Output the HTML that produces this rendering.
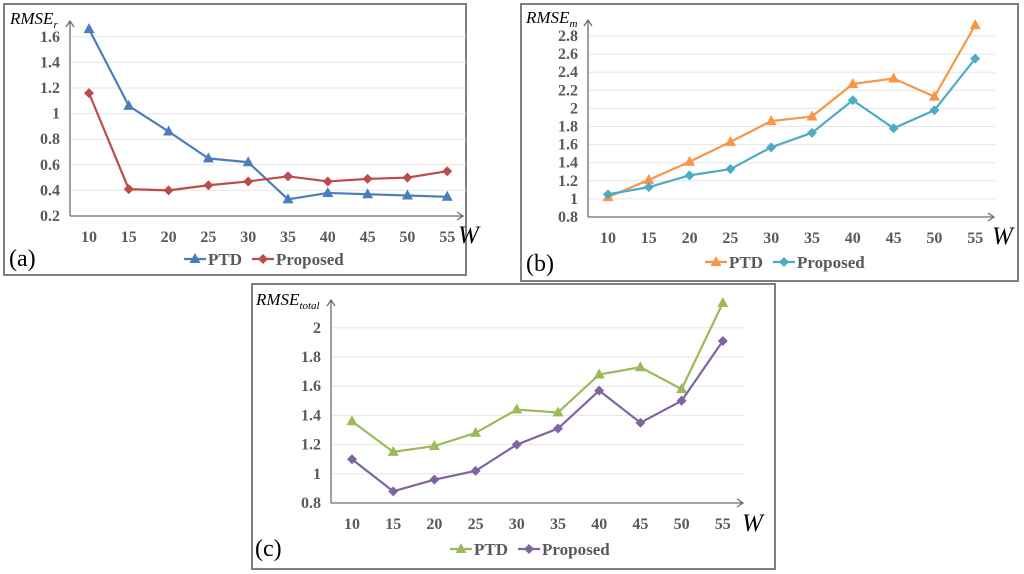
<!DOCTYPE html>
<html><head><meta charset="utf-8"><style>
html,body{margin:0;padding:0;background:#fff;}
svg{display:block;}
.tk{font-family:"Liberation Serif",serif;font-weight:bold;font-size:16px;fill:#595959;}
.lg{font-family:"Liberation Serif",serif;font-weight:bold;font-size:17px;fill:#595959;}
.pl{font-family:"Liberation Serif",serif;font-size:24px;fill:#000;}
.yt{font-family:"Liberation Serif",serif;font-style:italic;font-size:17px;fill:#000;}
.wl{font-family:"Liberation Serif",serif;font-style:italic;font-size:25px;fill:#000;}
</style></head><body>
<svg id="root" width="1024" height="574" viewBox="0 0 1024 574"></svg>
<script>
const categories = [10,15,20,25,30,35,40,45,50,55];
const aPTD = [1.66,1.06,0.86,0.65,0.62,0.33,0.38,0.37,0.36,0.35];
const aProposed = [1.16,0.41,0.40,0.44,0.47,0.51,0.47,0.49,0.50,0.55];
const aTicks = ["0.2","0.4","0.6","0.8","1","1.2","1.4","1.6"];
const bPTD = [1.02,1.21,1.41,1.63,1.86,1.91,2.27,2.33,2.13,2.92];
const bProposed = [1.05,1.13,1.26,1.33,1.57,1.73,2.09,1.78,1.98,2.55];
const bTicks = ["0.8","1","1.2","1.4","1.6","1.8","2","2.2","2.4","2.6","2.8"];
const cPTD = [1.36,1.15,1.19,1.28,1.44,1.42,1.68,1.73,1.58,2.17];
const cProposed = [1.10,0.88,0.96,1.02,1.20,1.31,1.57,1.35,1.50,1.91];
const cTicks = ["0.8","1","1.2","1.4","1.6","1.8","2"];

const NS="http://www.w3.org/2000/svg";
const root=document.getElementById('root');
function mk(tag,attrs,parent,text){const e=document.createElementNS(NS,tag);for(const k in attrs)e.setAttribute(k,attrs[k]);if(text!==undefined)e.textContent=text;(parent||root).appendChild(e);return e;}
function marker(g,type,x,y,color){
  if(type==='tri') return mk('polygon',{points:`${x},${y-6} ${x-5.5},${y+4} ${x+5.5},${y+4}`,fill:color},g);
  return mk('polygon',{points:`${x},${y-5} ${x+5},${y} ${x},${y+5} ${x-5},${y}`,fill:color},g);
}
function panel(p){
  const g=mk('g',{});
  
  
  const b=mk('rect',{x:p.box[0],y:p.box[1],width:p.box[2],height:p.box[3],fill:'#fff',stroke:'#7f7f7f','stroke-width':2},g);
  
  const t0=parseFloat(p.ticks[0]), step=parseFloat(p.ticks[1])-t0;
  const Y=v=>p.y0-(v-t0)/step*p.ystep;
  const X=i=>p.x0+i*p.xstep;
  p.ticks.forEach((t,i)=>{
    const y=Y(parseFloat(t));
    if(i>0){const l=mk('line',{x1:p.ax,x2:p.gx2,y1:y,y2:y,stroke:'#e6e6e6','stroke-width':1},g);}
    const tx=mk('text',{x:p.ax-10,y:y+5,'text-anchor':'end',class:'tk'},g,t);
    
  });
  categories.forEach((c,i)=>{const tx=mk('text',{x:X(i),y:p.y0+26,'text-anchor':'middle',class:'tk'},g,c);
    });
  const ax=mk('path',{d:`M${p.ax},${p.y0} H${p.axEnd} M${p.axEnd-6},${p.y0-4} L${p.axEnd},${p.y0} L${p.axEnd-6},${p.y0+4} M${p.ax},${p.y0} V${p.axTop} M${p.ax-4},${p.axTop+6} L${p.ax},${p.axTop} L${p.ax+4},${p.axTop+6}`,stroke:'#6d6d6d','stroke-width':1.3,fill:'none'},g);
  
  [[p.s1,p.c1,'tri','series-ptd'],[p.s2,p.c2,'dia','series-proposed']].forEach(([s,col,m,nm])=>{
    const pl=mk('polyline',{points:s.map((v,i)=>X(i)+','+Y(v)).join(' '),fill:'none',stroke:col,'stroke-width':2.2},g);
    
    s.forEach((v,i)=>{const mm=marker(g,m,X(i),Y(v),col);});
  });
  const yt=mk('text',{x:p.yt[0],y:p.yt[1],class:'yt'},g);
  
  mk('tspan',{},yt,'RMSE');mk('tspan',{'font-size':'11','dy':'4'},yt,p.sub);
  const w=mk('text',{x:p.w[0],y:p.w[1],class:'wl'},g,'W');
  
  const pl=mk('text',{x:p.lab[0],y:p.lab[1],class:'pl'},g,p.label);
  
  const lx=p.leg[0], ly=p.leg[1];
  const l1=mk('g',{},g);
  mk('line',{x1:lx,x2:lx+22,y1:ly,y2:ly,stroke:p.c1,'stroke-width':2.2},l1);marker(l1,'tri',lx+11,ly,p.c1);
  mk('text',{x:lx+24,y:ly+6,class:'lg'},l1,'PTD');
  const l2=mk('g',{},g);
  mk('line',{x1:lx+68,x2:lx+90,y1:ly,y2:ly,stroke:p.c2,'stroke-width':2.2},l2);marker(l2,'dia',lx+79,ly,p.c2);
  mk('text',{x:lx+92,y:ly+6,class:'lg'},l2,'Proposed');
}
panel({name:'chart-a',box:[4,4,462,271],ticks:aTicks,y0:216,ystep:25.6,x0:89,xstep:39.8,ax:70,axEnd:463,axTop:21,gx2:466,
  s1:aPTD,s2:aProposed,c1:'#4a7ebb',c2:'#be4b48',sub:'r',yt:[10,24],w:[458,243],lab:[9,266],label:'(a)',leg:[184,259]});
panel({name:'chart-b',box:[521,4,497,277],ticks:bTicks,y0:217,ystep:18.1,x0:608,xstep:40.8,ax:588,axEnd:994,axTop:20,gx2:995,
  s1:bPTD,s2:bProposed,c1:'#f79646',c2:'#4bacc6',sub:'m',yt:[526,23],w:[992,244],lab:[526,271],label:'(b)',leg:[705,262]});
panel({name:'chart-c',box:[252,284,523,285],ticks:cTicks,y0:503,ystep:29.2,x0:352,xstep:41.2,ax:331,axEnd:743,axTop:300,gx2:744,
  s1:cPTD,s2:cProposed,c1:'#9bbb59',c2:'#8064a2',sub:'total',yt:[256,305],w:[742,531],lab:[255,556],label:'(c)',leg:[450,549]});
</script>
</body></html>
